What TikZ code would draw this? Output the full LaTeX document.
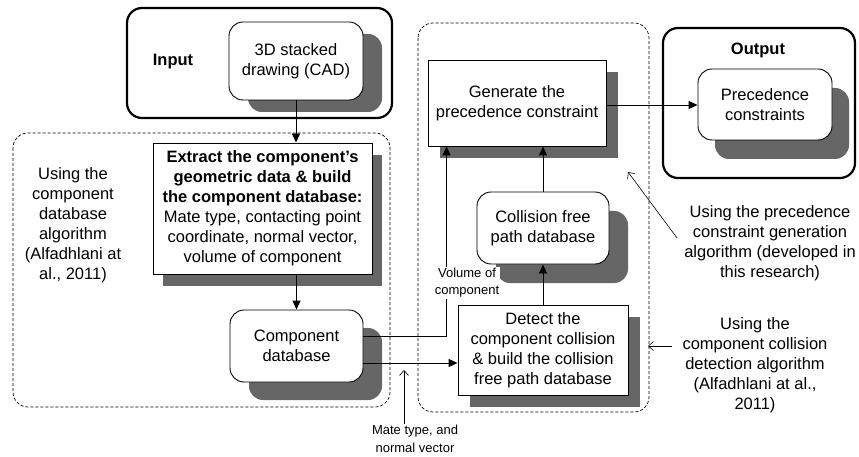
\documentclass[tikz,border=0pt]{standalone}
\usepackage{fontspec}
\setmainfont{Liberation Sans}
\usetikzlibrary{arrows.meta,shadows,calc}
\definecolor{shdc}{RGB}{102,102,102}
\begin{document}
\begin{tikzpicture}[x=1pt,y=-1pt,
  font=\fontsize{16.5}{20}\selectfont,
  sqbox/.style={draw=black, line width=0.9pt, fill=white, align=center, inner sep=0pt},
  rndbox/.style={sqbox, rounded corners=14pt},
  shd/.style 2 args={drop shadow={shadow xshift=#1pt, shadow yshift=-#2pt, fill=shdc, draw=none, opacity=1}},
  region/.style={draw=black, line width=0.7pt, dash pattern=on 3pt off 2pt, rounded corners=15pt},
  frame/.style={draw=black, line width=2.2pt, rounded corners=15pt},
  conn/.style={draw=black, line width=0.9pt, -{Triangle[length=9pt,width=8pt]}},
  note/.style={draw=black, line width=0.6pt, -{Straight Barb[length=5pt,width=9pt]}},
  txt/.style={align=center, inner sep=1pt}
]
\useasboundingbox (0,0) rectangle (859,457);

% frames and regions
\draw[frame] (127,8) rectangle (392,118);
\draw[frame] (663,28) rectangle (855,178);
\draw[region] (13,133) rectangle (390,407);
\draw[region] (418,23) rectangle (649,412);

% labels in frames
\node[txt, font=\fontsize{16.5}{20}\selectfont\bfseries] (inlab) at (173,62) {Input};
\node[txt, font=\fontsize{16.5}{20}\selectfont\bfseries] (outlab) at (758,50) {Output};

% nodes
\node[rndbox, shd={19}{12}, minimum width=134pt, minimum height=78pt] (inp) at (296,61) {3D stacked\\drawing (CAD)};
\node[sqbox, shd={10}{12}, minimum width=219pt, minimum height=131pt] (extract) at (262.5,208.5)
  {\textbf{Extract the component’s}\\\textbf{geometric data \& build}\\\textbf{the component database:}\\Mate type, contacting point\\coordinate, normal vector,\\volume of component};
\node[rndbox, shd={19}{18}, minimum width=133pt, minimum height=72pt] (compdb) at (296.5,346) {Component\\database};
\node[sqbox, shd={12}{12}, minimum width=178pt, minimum height=86pt] (gen) at (517,103) {Generate the\\precedence constraint};
\node[rndbox, shd={17}{19}, minimum width=134pt, minimum height=71pt] (prec) at (765,104.5) {Precedence\\constraints};
\node[rndbox, shd={19}{19}, minimum width=132pt, minimum height=72pt] (coll) at (543,228) {Collision free\\path database};
\node[sqbox, shd={12}{12}, minimum width=170pt, minimum height=90pt] (detect) at (543,350) {Detect the\\component collision\\\& build the collision\\free path database};

% side texts
\node[txt] (lt) at (73,225) {Using the\\component\\database\\algorithm\\(Alfadhlani at\\al., 2011)};
\node[txt] (annot1) at (770,243) {Using the precedence\\constraint generation\\algorithm (developed in\\this research)};
\node[txt] (annot2) at (755,365) {Using the\\component collision\\detection algorithm\\(Alfadhlani at al.,\\2011)};
\node[txt, font=\fontsize{13}{18}\selectfont] (mate) at (415,439) {Mate type, and\\normal vector};

% connectors
\draw[conn] (inp.south) -- (inp.south |- extract.north);
\draw[conn] (compdb.north |- extract.south) -- (compdb.north);
\draw[conn] ([yshift=10pt]compdb.east) -| ([xshift=19pt]gen.south west);
\node[txt, fill=white, font=\fontsize{13}{17}\selectfont] (vol) at (467,283) {Volume of\\component};
\draw[conn] ([yshift=-17pt]compdb.east) -- ([yshift=-17pt]compdb.east -| detect.west);
\draw[conn] (detect.north) -- (coll.south);
\draw[conn] (coll.north) -- (coll.north |- gen.south);
\draw[conn] ([yshift=-2pt]gen.east) -- ([yshift=-2pt]gen.east -| prec.west);

% annotation arrows
\coordinate (a1) at (628,172);
\coordinate (a2) at (648,346);
\coordinate (a3) at (404,370);
\draw[note] ($(annot1.west)+(-6,-5)$) -- (a1);
\draw[note] ($(annot2.west |- a2)+(-9,0)$) -- (a2);
\draw[note] (mate.north -| a3) -- (a3);
\end{tikzpicture}
\end{document}
